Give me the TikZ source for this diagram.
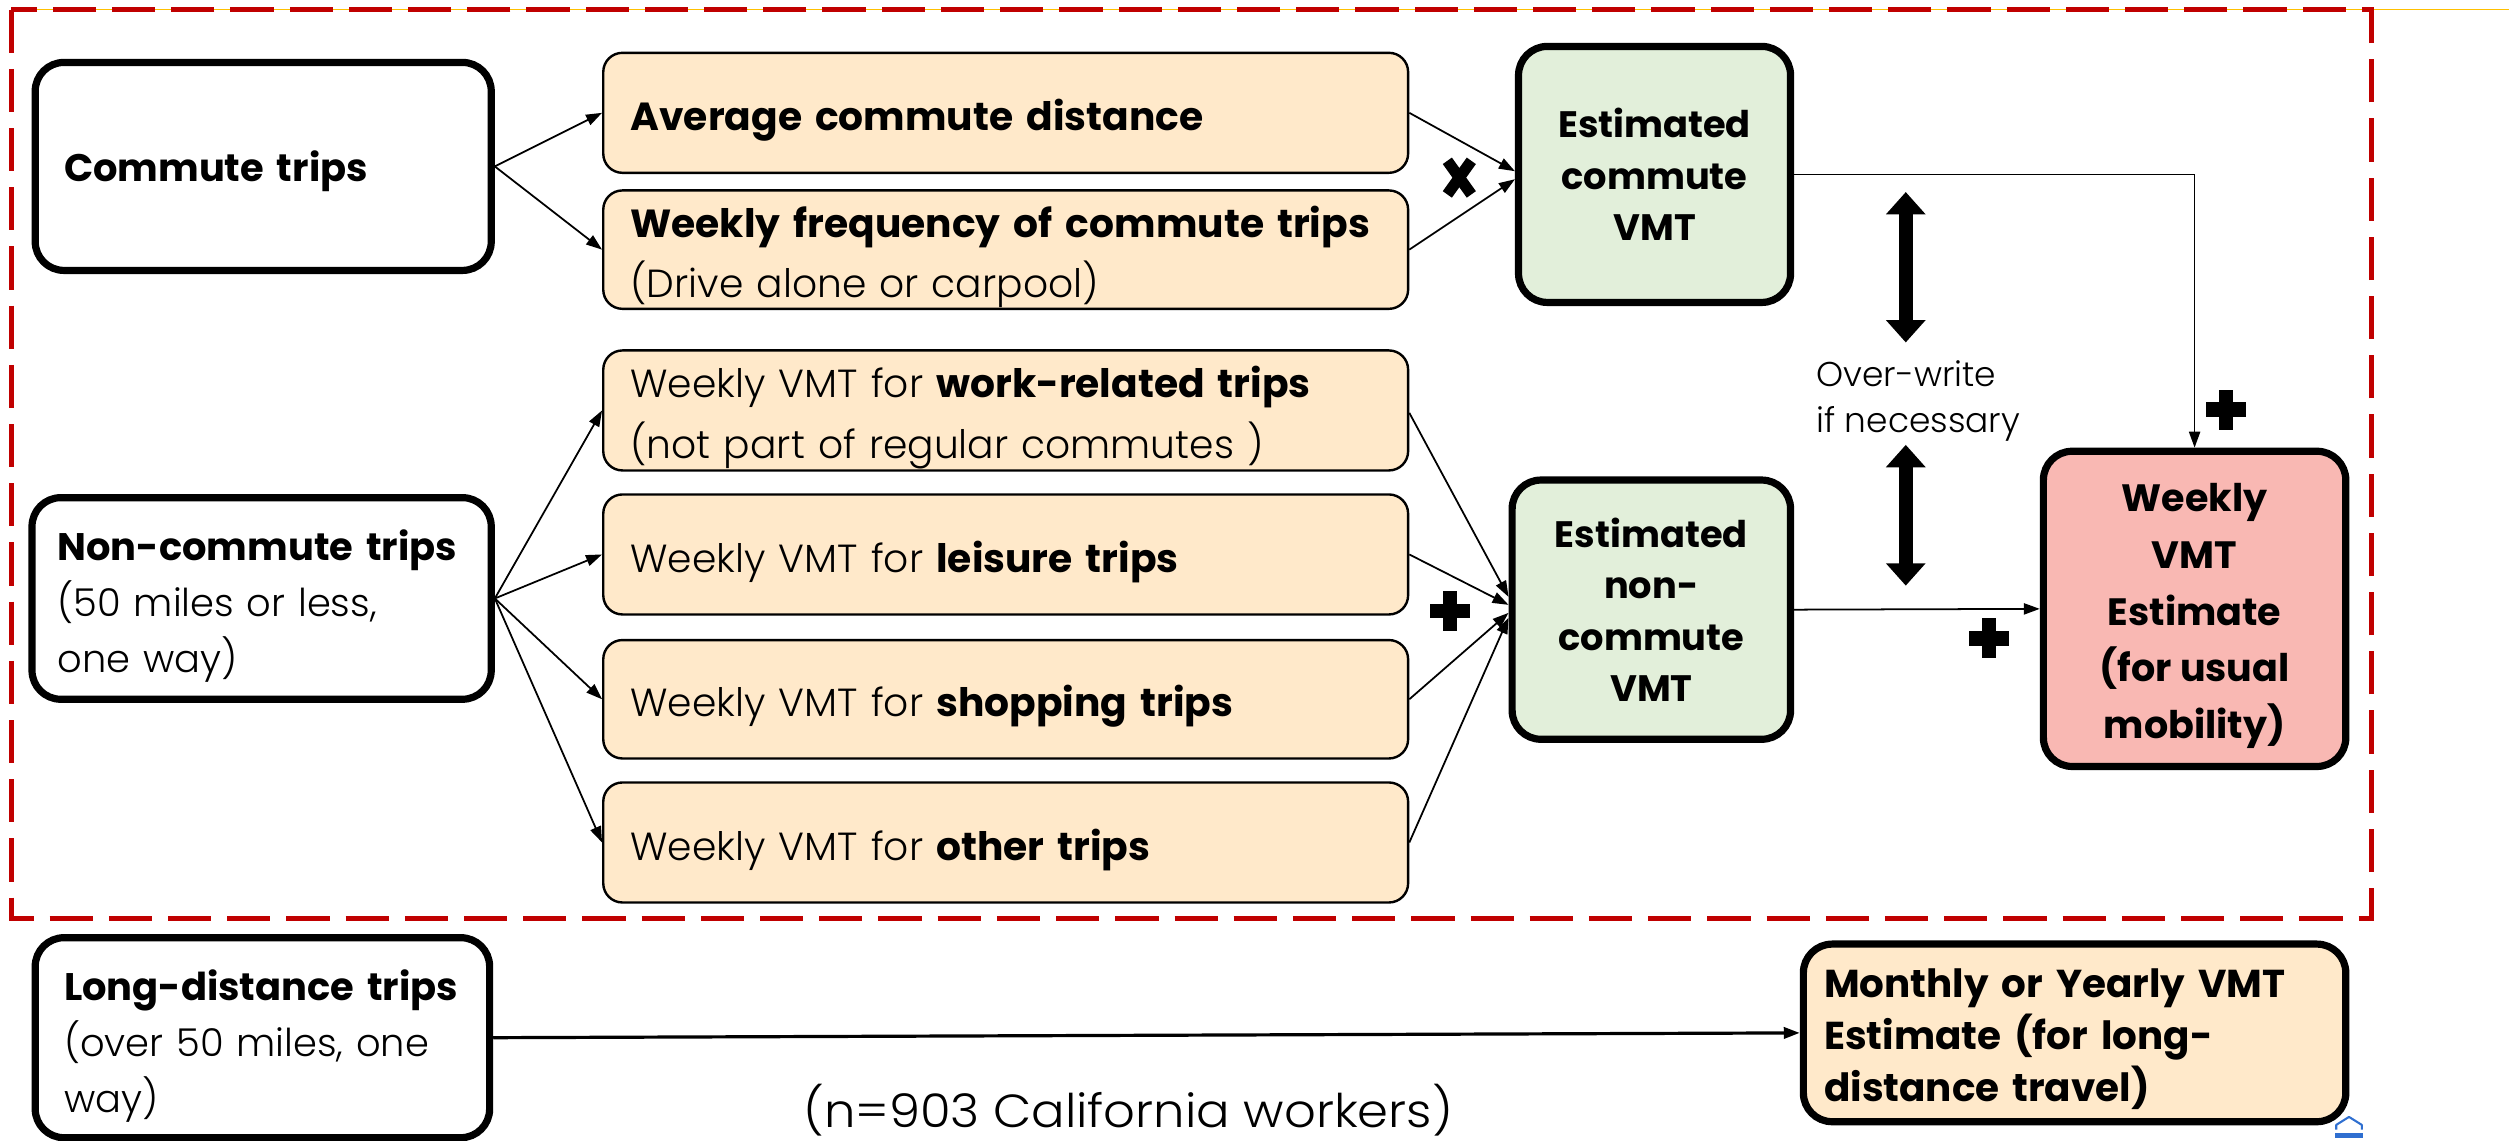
\documentclass[tikz,border=0pt]{standalone}
\usepackage{fontspec}
\setmainfont{Poppins}[UprightFont=* Light, BoldFont=* Bold]
\usetikzlibrary{arrows.meta}
\definecolor{peachc}{HTML}{FFE9CA}
\definecolor{greenc}{HTML}{E2EFDA}
\definecolor{pinkc}{HTML}{F9B8B3}
\definecolor{redc}{HTML}{C00000}
\definecolor{yelc}{HTML}{FFC000}
\definecolor{bluec}{HTML}{2F6FD0}
\tikzset{
  thickbox/.style={draw, line width=4.5pt, rounded corners=18pt, fill=white, inner sep=0pt},
  peachbox/.style={draw, line width=1.5pt, rounded corners=12pt, fill=peachc, inner sep=0pt, minimum width=503pt},
  txt/.style={inner sep=0pt, align=left},
  ptext/.style={txt, text width=469pt, font=\fontsize{24.5}{38}\selectfont},
  greenbox/.style={thickbox, fill=greenc, align=center, font=\bfseries\fontsize{23}{32}\selectfont},
  arr/.style={-{Triangle[length=10pt,width=7pt]}, line width=1.1pt},
  dblarr/.style={line width=9pt, {Triangle[length=14pt,width=24pt]}-{Triangle[length=14pt,width=24pt]}},
  plusmark/.pic={\fill (-12.5,-4.5) rectangle (12.5,4.5); \fill (-4.5,-12.5) rectangle (4.5,12.5);},
  timesmark/.pic={\draw[line width=7pt] (-7.5,-10.5) -- (7.5,10.5) (-7.5,10.5) -- (7.5,-10.5);}
}
\begin{document}
\begin{tikzpicture}[x=1pt,y=-1pt]
\useasboundingbox (0,0) rectangle (1568,713);
% frame
\draw[yelc, line width=1pt] (8,6) -- (1568,6);
\draw[redc, line width=3pt, dash pattern=on 27pt off 10pt] (7,6) rectangle (1482,574);

% left boxes
\node[thickbox, minimum width=285pt, minimum height=130pt] (commute) at (164.5,104) {};
\node[txt, text width=249pt, font=\bfseries\fontsize{24}{35}\selectfont] (commuteT) at ([yshift=-3pt]commute.center) {Commute trips};
\node[thickbox, minimum width=287pt, minimum height=126pt] (noncom) at (163.5,374) {};
\node[txt, text width=255pt, font=\fontsize{24}{35}\selectfont] (noncomT) at ([yshift=-4.5pt]noncom.center) {\textbf{Non-commute trips}\\(50 miles or less,\\one way)};
\node[thickbox, minimum width=284pt, minimum height=125pt] (long) at (164,648.5) {};
\node[txt, text width=248pt, font=\fontsize{24}{35}\selectfont] (longT) at ([yshift=-5.5pt]long.center) {\textbf{Long-distance trips}\\(over 50 miles, one\\way)};

% peach boxes
\node[peachbox, minimum height=75pt] (avg) at (628.5,70.5) {};
\node[ptext] (avgT) at ([yshift=-4.5pt]avg.center) {\textbf{Average commute distance}};
\node[peachbox, minimum height=74pt] (freq) at (628.5,156) {};
\node[ptext] (freqT) at ([yshift=-4.5pt]freq.center) {\textbf{Weekly frequency of commute trips}\\(Drive alone or carpool)};
\node[peachbox, minimum height=75pt] (work) at (628.5,256.5) {};
\node[ptext] (workT) at ([yshift=-4.5pt]work.center) {Weekly VMT for \textbf{work-related trips}\\(not part of regular commutes )};
\node[peachbox, minimum height=75pt] (leis) at (628.5,346.5) {};
\node[ptext] (leisT) at ([yshift=-4.5pt]leis.center) {Weekly VMT for \textbf{leisure trips}};
\node[peachbox, minimum height=74pt] (shop) at (628.5,437) {};
\node[ptext] (shopT) at ([yshift=-4.5pt]shop.center) {Weekly VMT for \textbf{shopping trips}};
\node[peachbox, minimum height=75pt] (other) at (628.5,526.5) {};
\node[ptext] (otherT) at ([yshift=-4.5pt]other.center) {Weekly VMT for \textbf{other trips}};

% green boxes
\node[greenbox, minimum width=170pt, minimum height=160pt] (gcom) at (1034,109) {Estimated\\commute\\VMT};
\node[greenbox, minimum width=174pt, minimum height=162pt] (gnon) at (1032,381) {Estimated\\non-\\commute\\VMT};

% pink box
\node[thickbox, fill=pinkc, minimum width=189pt, minimum height=197pt] (weekly) at (1371.5,380.5) {};
\node[txt, align=center, font=\bfseries\fontsize{23.8}{35.5}\selectfont] (weeklyT) at ([yshift=-4.5pt]weekly.center) {Weekly\\VMT\\Estimate\\(for usual\\mobility)};

% monthly box
\node[thickbox, fill=peachc, minimum width=339pt, minimum height=111pt] (monthly) at (1296.5,645.5) {};
\node[txt, text width=313pt, font=\bfseries\fontsize{24.3}{32.5}\selectfont] (monthlyT) at ([yshift=-4pt]monthly.center) {Monthly or Yearly VMT\\Estimate (for long-\\distance travel)};

% texts
\node[anchor=west, align=left, inner sep=0pt, font=\fontsize{21.5}{29}\selectfont] (ow) at (1135,250.5) {Over-write\\if necessary};
\node[inner sep=0pt, font=\addfontfeature{FakeStretch=1.07}\fontsize{29}{32}\selectfont] (nnote) at (705,693.5) {(n=903 California workers)};

% connectors
\draw[arr] (commute.east) -- (avg.west);
\draw[arr] (commute.east) -- (freq.west);
\draw[arr] (avg.east) -- ([yshift=2pt]gcom.west);
\draw[arr] (freq.east) -- ([yshift=-3pt]gcom.west);
\draw[arr] (gcom.east) -| (weekly.north);

\draw[arr] (noncom.east) -- (work.west);
\draw[arr] (noncom.east) -- (leis.west);
\draw[arr] (noncom.east) -- (shop.west);
\draw[arr] (noncom.east) -- (other.west);
\draw[arr] ([yshift=-1.5pt]work.east) -- ([yshift=8pt]gnon.west);
\draw[arr] (leis.east) -- ([yshift=3pt]gnon.west);
\draw[arr] (shop.east) -- ([yshift=-2pt]gnon.west);
\draw[arr] (other.east) -- ([yshift=-5pt]gnon.west);
\draw[arr] (gnon.east) -- (weekly.west);

\draw[arr, line width=2pt] (long.east) -- (monthly.west);

% double arrows
\coordinate (da1a) at (1191,120);
\coordinate (da1b) at (1191,214);
\coordinate (da2a) at (1191,278);
\coordinate (da2b) at (1191,366);
\draw[dblarr] (da1a) -- (da1b);
\draw[dblarr] (da2a) -- (da2b);

% operator marks
\pic at (912,111) {timesmark};
\pic at (906,382) {plusmark};
\pic at (1391,256) {plusmark};
\pic at (1243,399) {plusmark};

% small blue icon
\draw[bluec, line width=1.3pt, line join=round] (1460,706) -- (1460,703) -- (1468,698) -- (1476,703) -- (1476,706);
\fill[bluec] (1459,708) rectangle (1477,711);
\end{tikzpicture}
\end{document}
